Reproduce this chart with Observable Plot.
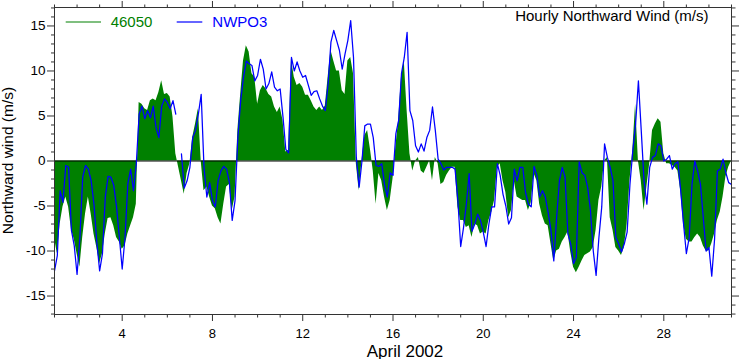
<!DOCTYPE html>
<html>
<head>
<meta charset="utf-8">
<script src="https://cdn.jsdelivr.net/npm/d3@7"></script>
<script src="https://cdn.jsdelivr.net/npm/@observablehq/plot@0.6"></script>
<style>
  html, body { margin: 0; padding: 0; background: #fff; }
  svg { display: block; }
</style>
</head>
<body>
<div id="chart"></div>
<script>
// Day of April 2002 at which the 3-hourly samples start, and sample step (days)
const startDay = 1;
const stepDays = 0.125;

// Buoy 46050 northward wind (m/s), 3-hourly, from Apr 1 00h to May 1 00h
const buoy46050 = [
  -8.5, -10.3, -7.0, -5.1, -4.0, -5.1, -7.6, -8.7,
  -10.3, -11.8, -8.5, -5.9, -4.0, -5.9, -8.1, -9.6,
  -11.4, -10.3, -8.1, -6.4, -6.3, -7.2, -8.5, -9.0,
  -9.8, -9.4, -8.1, -7.2, -6.3, -4.8, 6.5, 6.3,
  5.8, 5.6, 6.7, 6.9, 6.7, 7.6, 8.9, 7.4,
  7.5, 7.1, 4.9, 0.8, -0.7, -2.2, -3.7, -1.4,
  -0.3, 2.6, 4.1, 5.8, 0.0, -3.3, -2.9, -4.0,
  -5.0, -5.3, -6.3, -7.0, -4.8, -2.9, -2.6, -5.5,
  -4.0, 3.4, 7.4, 11.1, 12.8, 12.1, 9.7, 9.3,
  6.3, 7.8, 8.4, 8.0, 7.4, 7.1, 6.0, 5.4,
  6.0, 4.5, 1.0, 1.2, 11.3, 9.3, 8.4, 8.6,
  8.2, 7.3, 7.3, 6.7, 6.0, 5.6, 6.0, 5.6,
  6.1, 9.3, 12.3, 11.1, 10.0, 10.0, 7.8, 7.4,
  11.1, 11.5, 9.7, -0.3, -3.3, 0.0, 2.8, 3.4,
  1.3, -1.1, -4.8, -1.4, -2.2, -4.0, -5.5, -4.4,
  -2.0, 1.5, 4.5, 9.3, 11.1, 5.6, 0.8, -1.1,
  0.0, 0.4, -1.1, -1.4, -0.7, 0.0, -2.2, 0.4,
  -0.3, -2.6, -2.4, -1.6, -1.1, -0.7, -0.7, -5.1,
  -6.6, -6.6, -7.4, -7.2, -8.5, -7.0, -7.2, -8.1,
  -7.9, -8.1, -6.6, -5.7, -4.4, -0.7, -0.3, -2.2,
  -3.5, -6.3, -5.5, -2.2, -4.0, -4.2, -4.4, -4.4,
  -5.5, -4.6, -1.4, -2.2, -4.8, -6.1, -7.0, -7.2,
  -9.2, -11.1, -10.0, -9.8, -9.0, -8.5, -7.9, -10.1,
  -11.8, -12.4, -11.8, -11.1, -10.5, -10.3, -10.1, -9.6,
  -7.7, -4.4, -2.9, 0.0, 0.4, -6.3, -7.7, -9.6,
  -10.0, -10.5, -9.6, -7.0, -2.2, 1.1, 6.3, 0.0,
  -2.2, -5.5, -2.9, -0.3, 3.4, 4.1, 4.7, 4.3,
  0.8, -0.3, -0.3, -0.5, -0.7, -1.1, -3.3, -7.0,
  -8.7, -9.0, -9.0, -8.5, -8.1, -8.5, -9.4, -10.0,
  -10.0, -9.2, -8.1, -6.6, -5.7, -4.0, -1.8, -0.7,
  0.0
];

// Station NWPO3 northward wind (m/s), same 3-hourly times
const nwpo3 = [
  -12.2, -10.5, -3.3, -4.6, -0.5, -0.7, -7.7, -9.4,
  -12.6, -8.5, -1.8, -0.5, -0.9, -2.2, -4.8, -9.0,
  -12.2, -10.3, -4.0, -1.7, -1.8, -2.7, -5.1, -8.5,
  -12.0, -8.5, -2.5, -0.9, -3.3, -0.3, 5.2, 6.1,
  4.7, 5.6, 4.8, 6.1, 3.7, 2.6, 6.1, 6.9,
  6.5, 5.8, 6.7, 5.2, null, 0.8, -3.0, -2.2,
  -0.7, 2.6, 3.4, 5.2, 7.4, -0.7, -4.0, -2.4,
  -4.4, -5.1, -2.2, -1.1, -0.6, -0.9, -2.4, -6.6,
  -4.4, 2.6, 6.7, 9.3, 11.1, 10.8, 10.6, 8.9,
  9.5, 11.3, 10.2, 8.0, 8.6, 9.9, 8.2, 7.8,
  8.0, 4.9, 1.3, 0.9, 11.5, 10.0, 11.0, 10.0,
  9.3, 9.5, 8.4, 7.3, 7.7, 7.8, 6.9, 6.1,
  5.6, 8.6, 13.2, 14.5, 13.4, 12.3, 10.2, 11.9,
  13.4, 15.6, 11.5, 0.4, -2.9, 0.0, 3.9, 4.1,
  4.1, 2.6, -0.5, -0.6, -0.3, -2.6, -4.0, -1.3,
  -1.6, 3.0, 4.5, 9.7, 11.5, 14.3, 5.6, 4.5,
  1.7, 1.0, 1.9, 1.1, 2.6, 3.4, 6.0, 3.4,
  0.2, -0.3, -1.0, -0.7, -0.7, -0.7, -0.9, -4.4,
  -9.5, -7.4, -4.8, -1.4, -7.8, -7.0, -5.9, -6.6,
  -7.9, -9.5, -7.0, -5.1, -5.1, -0.3, -1.6, -3.7,
  -5.0, -7.0, -6.3, -0.9, -2.2, -0.7, -0.7, -3.5,
  -4.8, -5.1, -0.6, -1.6, -4.0, -3.3, -4.0, -5.7,
  -7.7, -11.1, -6.3, -2.2, -0.7, -1.8, -8.1, -9.2,
  -11.4, -10.7, -0.1, -1.3, -1.6, -2.9, -5.5, -10.0,
  -12.7, -8.5, -5.1, 1.9, 0.4, -0.7, -2.2, -8.5,
  -9.2, -10.1, -9.2, -7.9, -2.6, 1.1, 4.1, 8.9,
  3.4, -2.2, -4.8, -0.7, 0.4, 0.6, 1.9, 1.7,
  0.0, 0.2, 0.6, -0.9, -0.3, -0.1, -3.3, -7.0,
  -10.3, -8.5, -2.6, 0.0, -1.1, -2.6, -6.3, -10.0,
  -9.6, -12.8, -8.7, -1.1, -0.9, 0.2, -1.3, -2.4,
  -2.6
];

// Axis ticks
const xMajorTicks = [4, 8, 12, 16, 20, 24, 28];
const xMinorTicks = [1,2,3,5,6,7,9,10,11,13,14,15,17,18,19,21,22,23,25,26,27,29,30,31];
const yMajorTicks = [-15, -10, -5, 0, 5, 10, 15];
const yMinorTicks = [-17,-16,-14,-13,-12,-11,-9,-8,-7,-6,-4,-3,-2,-1,1,2,3,4,6,7,8,9,11,12,13,14,16,17];

// Texts
const titleText = "Hourly Northward Wind (m/s)";
const xLabel = "April 2002";
const yLabel = "Northward wind (m/s)";
const seriesNames = ["46050", "NWPO3"];
const seriesColors = ["#008000", "#0000ff"];

const rows = buoy46050.map((g, i) => ({
  t: startDay + i * stepDays,
  g: g,
  b: nwpo3[i]
}));

const axisColor = "#333";
const fmt = d => String(d);
const blank = () => "";

const svg = Plot.plot({
  width: 739,
  height: 359,
  marginLeft: 54,
  marginRight: 8,
  marginTop: 7,
  marginBottom: 45,
  style: { fontFamily: "'Liberation Sans', Arial, sans-serif", fontSize: "13px", background: "white", color: "black" },
  x: { domain: [1, 31] },
  y: { domain: [-17.05, 17.05] },
  marks: [
    Plot.areaY(rows, { x: "t", y: "g", fill: seriesColors[0] }),
    Plot.ruleY([0], { stroke: "black", strokeWidth: 1.2 }),
    Plot.lineY(rows, { x: "t", y: "b", stroke: seriesColors[1], strokeWidth: 1.25 }),
    Plot.frame({ stroke: axisColor }),
    Plot.axisX({ anchor: "bottom", ticks: xMajorTicks, tickSize: 7, tickPadding: 7, tickFormat: fmt, label: null, stroke: axisColor }),
    Plot.axisX({ anchor: "bottom", ticks: xMinorTicks, tickSize: 3.5, tickFormat: blank, label: null, stroke: axisColor }),
    Plot.axisX({ anchor: "top", ticks: xMajorTicks, tickSize: 7, tickFormat: blank, label: null, stroke: axisColor }),
    Plot.axisX({ anchor: "top", ticks: xMinorTicks, tickSize: 3.5, tickFormat: blank, label: null, stroke: axisColor }),
    Plot.axisY({ anchor: "left", ticks: yMajorTicks, tickSize: 7, tickPadding: 2, tickFormat: fmt, label: null, stroke: axisColor, fontSize: 13.5 }),
    Plot.axisY({ anchor: "left", ticks: yMinorTicks, tickSize: 3, tickFormat: blank, label: null, stroke: axisColor }),
    Plot.axisY({ anchor: "right", ticks: yMajorTicks, tickSize: 7, tickFormat: blank, label: null, stroke: axisColor }),
    Plot.axisY({ anchor: "right", ticks: yMinorTicks, tickSize: 3.5, tickFormat: blank, label: null, stroke: axisColor })
  ]
});

document.getElementById("chart").appendChild(svg);

const s = d3.select(svg);
const ff = "'Liberation Sans', Arial, sans-serif";

// Title (inside, top-right)
s.append("text").attr("x", 708.5).attr("y", 20.7).attr("text-anchor", "end")
  .attr("font-family", ff).attr("font-size", 15).attr("fill", "black").text(titleText);

// x-axis label
s.append("text").attr("x", 405).attr("y", 356.5).attr("text-anchor", "middle")
  .attr("font-family", ff).attr("font-size", 17).attr("fill", "black").text(xLabel);

// y-axis label
s.append("text").attr("transform", "translate(12.5,160.5) rotate(-90)").attr("text-anchor", "middle")
  .attr("font-family", ff).attr("font-size", 15.5).attr("fill", "black").text(yLabel);

// Legend (inside, top-left)
const legendItems = [
  { name: seriesNames[0], color: seriesColors[0], x1: 65.7, x2: 101, tx: 110.7 },
  { name: seriesNames[1], color: seriesColors[1], x1: 176.7, x2: 202.3, tx: 212.3 }
];
for (const it of legendItems) {
  s.append("line").attr("x1", it.x1).attr("x2", it.x2).attr("y1", 22).attr("y2", 22)
    .attr("stroke", it.color).attr("stroke-width", 1.2);
  s.append("text").attr("x", it.tx).attr("y", 27).attr("text-anchor", "start")
    .attr("font-family", ff).attr("font-size", 15)
    .attr("fill", it.color).text(it.name);
}
</script>
</body>
</html>
